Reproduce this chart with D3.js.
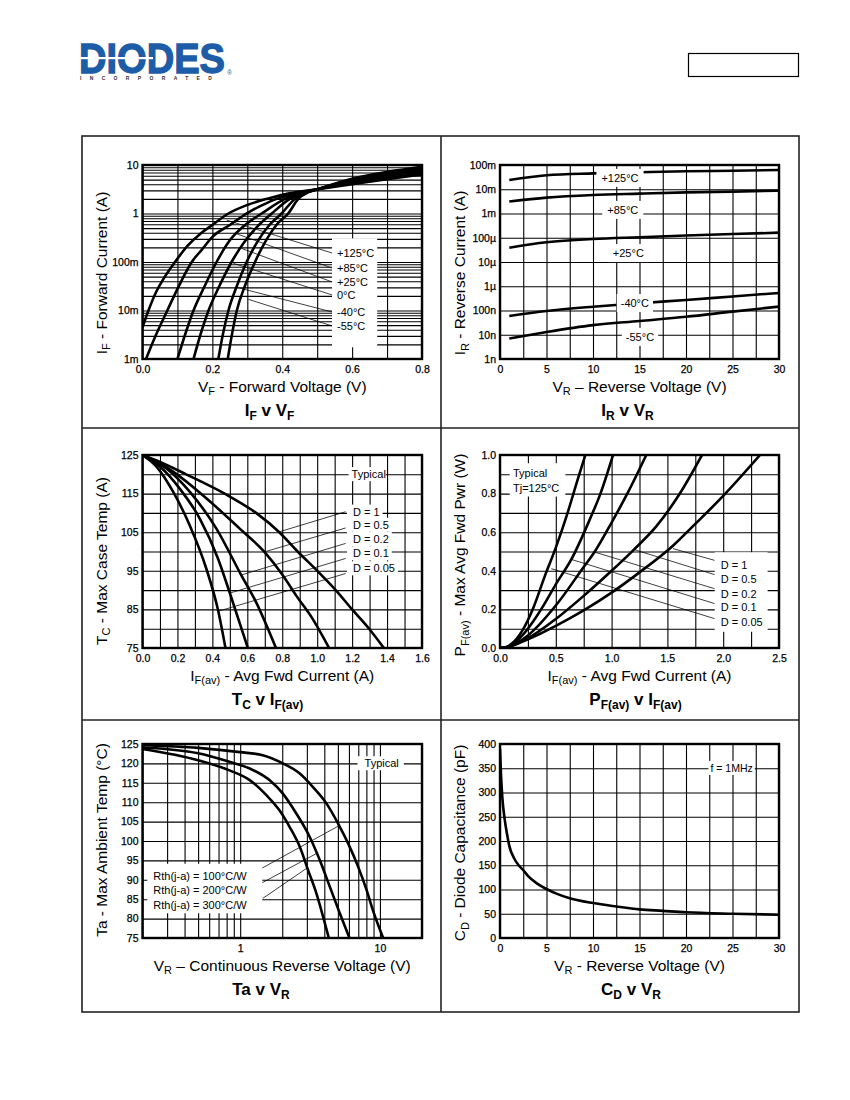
<!DOCTYPE html>
<html>
<head>
<meta charset="utf-8">
<title>Diode typical characteristics</title>
<script src="https://cdnjs.cloudflare.com/ajax/libs/d3/7.8.5/d3.min.js"></script>
<style>
  body { margin: 0; background: #fff; }
  svg { display: block; }
</style>
</head>
<body>
<div id="sheet"></div>
<script>
// ---------- values ----------

// IF v VF : [forward voltage (V), forward current (A)]
var ifTempLabels = ['+125°C', '+85°C', '+25°C', '0°C', '-40°C', '-55°C'];
var if125 = [[0, 0.0045], [0.017, 0.01], [0.04, 0.025], [0.06, 0.045], [0.093, 0.1], [0.13, 0.22], [0.165, 0.38], [0.2, 0.58], [0.246, 1.0], [0.3, 1.5], [0.355, 2.0], [0.42, 2.6], [0.5, 3.15], [0.6, 4.0], [0.7, 5.1], [0.8, 6.4]];
var if85 = [[0.01, 0.001], [0.04, 0.0033], [0.071, 0.01], [0.105, 0.033], [0.141, 0.1], [0.17, 0.18], [0.2, 0.33], [0.25, 0.58], [0.3, 1.02], [0.34, 1.45], [0.384, 2.0], [0.44, 2.6], [0.5, 3.15], [0.6, 4.2], [0.7, 5.4], [0.8, 6.9]];
var if25 = [[0.1, 0.001], [0.122, 0.0032], [0.146, 0.01], [0.178, 0.032], [0.212, 0.1], [0.25, 0.28], [0.3, 0.63], [0.341, 1.0], [0.408, 2.0], [0.45, 2.6], [0.5, 3.15], [0.6, 4.45], [0.7, 5.9], [0.8, 7.5]];
var if0 = [[0.146, 0.001], [0.166, 0.0032], [0.189, 0.01], [0.22, 0.032], [0.255, 0.1], [0.29, 0.25], [0.33, 0.55], [0.37, 1.0], [0.422, 2.0], [0.46, 2.65], [0.5, 3.15], [0.6, 4.7], [0.7, 6.3], [0.8, 8.0]];
var ifM40 = [[0.217, 0.001], [0.23, 0.0032], [0.246, 0.01], [0.27, 0.032], [0.298, 0.1], [0.33, 0.27], [0.365, 0.6], [0.398, 1.0], [0.436, 2.0], [0.47, 2.7], [0.5, 3.15], [0.6, 5.0], [0.7, 6.8], [0.8, 8.7]];
var ifM55 = [[0.244, 0.001], [0.256, 0.0032], [0.27, 0.01], [0.293, 0.032], [0.322, 0.1], [0.35, 0.25], [0.385, 0.6], [0.417, 1.0], [0.446, 2.0], [0.475, 2.75], [0.5, 3.15], [0.6, 5.2], [0.7, 7.2], [0.8, 9.2]];
var ifXTicks = [0, 0.2, 0.4, 0.6, 0.8];
var ifXLabels = ['0.0', '0.2', '0.4', '0.6', '0.8'];
var ifYTicks = [0.001, 0.01, 0.1, 1, 10];
var ifYLabels = ['1m', '10m', '100m', '1', '10'];

// IR v VR : [reverse voltage (V), reverse current (A)]
var irTempLabels = ['+125°C', '+85°C', '+25°C', '-40°C', '-55°C'];
var ir125 = [[1, 0.024], [5, 0.038], [10, 0.045], [15, 0.05], [20, 0.055], [25, 0.058], [30, 0.062]];
var ir85 = [[1, 0.0031], [5, 0.0045], [10, 0.0058], [15, 0.0066], [20, 0.0074], [25, 0.008], [30, 0.0087]];
var ir25 = [[1, 3.9e-5], [5, 6.5e-5], [10, 8.9e-5], [15, 1.05e-4], [20, 1.23e-4], [25, 1.42e-4], [30, 1.62e-4]];
var irM40 = [[1, 5.9e-8], [5, 9.5e-8], [10, 1.43e-7], [15, 2.0e-7], [20, 2.7e-7], [25, 3.8e-7], [30, 5.3e-7]];
var irM55 = [[1, 7e-9], [5, 1.3e-8], [10, 2.5e-8], [15, 3.7e-8], [20, 5.5e-8], [25, 9e-8], [30, 1.45e-7]];
var irXTicks = [0, 5, 10, 15, 20, 25, 30];
var irYTicks = [1e-9, 1e-8, 1e-7, 1e-6, 1e-5, 1e-4, 1e-3, 1e-2, 1e-1];
var irYLabels = ['1n', '10n', '100n', '1\u00b5', '10\u00b5', '100\u00b5', '1m', '10m', '100m'];

// TC v IF(av) : [avg forward current (A), max case temp (°C)]
var dutyLabels = ['D = 1', 'D = 0.5', 'D = 0.2', 'D = 0.1', 'D = 0.05'];
var tcD1 = [[0, 125], [0.1, 123.2], [0.25, 120], [0.47, 115], [0.65, 110], [0.783, 105], [0.888, 100], [1.0, 95], [1.106, 90], [1.2, 85], [1.297, 80], [1.382, 75]];
var tcD05 = [[0, 125], [0.175, 120.7], [0.365, 113.8], [0.555, 106], [0.698, 99.9], [0.802, 93.9], [0.878, 88.7], [0.973, 82.6], [1.068, 75]];
var tcD02 = [[0, 125], [0.137, 121.5], [0.27, 115.5], [0.422, 106], [0.565, 93.9], [0.65, 86.9], [0.764, 75]];
var tcD01 = [[0, 125], [0.099, 122], [0.213, 116.3], [0.327, 108.6], [0.432, 98.2], [0.498, 89.5], [0.603, 75]];
var tcD005 = [[0, 125], [0.08, 122], [0.175, 115.5], [0.27, 106.8], [0.365, 95.6], [0.432, 84.9], [0.475, 75]];
var tcXTicks = [0, 0.2, 0.4, 0.6, 0.8, 1.0, 1.2, 1.4, 1.6];
var tcXLabels = ['0.0', '0.2', '0.4', '0.6', '0.8', '1.0', '1.2', '1.4', '1.6'];
var tcYTicks = [75, 85, 95, 105, 115, 125];

// PF(av) v IF(av) : [avg forward current (A), avg forward power (W)]
var pfD1 = [[0, 0], [0.05, 0.002], [0.1, 0.01], [0.25, 0.045], [0.5, 0.115], [0.75, 0.195], [1.0, 0.287], [1.25, 0.392], [1.55, 0.53], [1.75, 0.643], [2.0, 0.788], [2.33, 1.0]];
var pfD05 = [[0, 0], [0.05, 0.002], [0.1, 0.01], [0.25, 0.05], [0.5, 0.15], [0.75, 0.27], [1.0, 0.4], [1.2, 0.51], [1.4, 0.63], [1.6, 0.79], [1.81, 1.0]];
var pfD02 = [[0, 0], [0.05, 0.003], [0.1, 0.012], [0.25, 0.065], [0.5, 0.22], [0.75, 0.42], [0.85, 0.5], [1.0, 0.65], [1.15, 0.81], [1.311, 1.0]];
var pfD01 = [[0, 0], [0.05, 0.003], [0.1, 0.015], [0.2, 0.065], [0.3, 0.14], [0.4, 0.23], [0.5, 0.33], [0.64, 0.46], [0.8, 0.66], [0.9, 0.8], [1.013, 1.0]];
var pfD005 = [[0, 0], [0.05, 0.004], [0.1, 0.02], [0.2, 0.09], [0.3, 0.21], [0.4, 0.37], [0.5, 0.52], [0.6, 0.69], [0.7, 0.88], [0.765, 1.0]];
var pfXTicks = [0, 0.5, 1.0, 1.5, 2.0, 2.5];
var pfXLabels = ['0.0', '0.5', '1.0', '1.5', '2.0', '2.5'];
var pfYTicks = [0, 0.2, 0.4, 0.6, 0.8, 1.0];
var pfYLabels = ['0.0', '0.2', '0.4', '0.6', '0.8', '1.0'];

// Ta v VR : [reverse voltage (V), max ambient temp (°C)]
var rthLabels = ['Rth(j-a) = 100°C/W', 'Rth(j-a) = 200°C/W', 'Rth(j-a) = 300°C/W'];
var ta100 = [[0.2, 124.7], [0.5, 124], [1, 122.9], [1.45, 122.1], [2.02, 120], [2.67, 117.4], [3.32, 113.9], [4.14, 109.7], [5.02, 104.5], [5.92, 99.4], [6.98, 93.4], [8.02, 87.4], [9.05, 81.4], [10.6, 74.8]];
var ta200 = [[0.2, 124.1], [0.5, 122.6], [0.838, 120.4], [1.17, 118.7], [1.62, 115.7], [2.02, 112.2], [2.52, 107.1], [3.14, 101.1], [3.71, 95.1], [4.38, 88.2], [5.16, 81.4], [6.1, 74.7]];
var ta300 = [[0.2, 123.7], [0.5, 120.8], [0.838, 118.2], [1.17, 115.7], [1.54, 111.8], [1.91, 107.9], [2.26, 103.6], [2.67, 98.5], [3.06, 92.5], [3.51, 86.5], [3.92, 80.5], [4.33, 74.7]];
var taXTicks = [1, 10];
var taYTicks = [75, 80, 85, 90, 95, 100, 105, 110, 115, 120, 125];

// CD v VR : [reverse voltage (V), capacitance (pF)]
var cdCurve = [[0, 390], [0.1, 340], [0.25, 290], [0.5, 245], [0.75, 215], [1, 190], [1.5, 165], [2, 150], [2.5, 140], [3, 128], [4, 112], [5, 101], [6, 92], [7.5, 82], [10, 72], [12.5, 65], [15, 59], [17.5, 56], [20, 53], [25, 50], [30, 48]];
var cdXTicks = [0, 5, 10, 15, 20, 25, 30];
var cdYTicks = [0, 50, 100, 150, 200, 250, 300, 350, 400];

// ---------- drawing ----------

var FONT = '"Liberation Sans", Arial, Helvetica, sans-serif';
var BLUE = '#1d5ca6';

var svg = d3.select('#sheet').append('svg')
    .attr('width', 850)
    .attr('height', 1100)
    .style('font-family', FONT);
var defs = svg.append('defs');
var clipCount = 0;

// Header: logo (one text element, squeezed horizontally) and part number box.
var logo = svg.append('text')
    .attr('transform', 'translate(79,0) scale(0.907,1)')
    .attr('font-weight', 'bold');
logo.append('tspan')
    .attr('x', 0).attr('y', 73)
    .attr('font-size', 42)
    .attr('fill', BLUE).attr('stroke', BLUE).attr('stroke-width', 1.3)
    .text('DIODES');
logo.append('tspan')
    .attr('x', 1.1).attr('y', 80.5)
    .attr('font-size', 5.5)
    .attr('letter-spacing', 9.2)
    .attr('fill', '#333')
    .text('INCORPORATED');
logo.append('tspan')
    .attr('x', 163.5).attr('y', 75.5)
    .attr('font-size', 7).attr('font-weight', 'normal')
    .attr('fill', BLUE)
    .text('\u00ae');
svg.append('rect')
    .attr('x', 79).attr('y', 57).attr('width', 74).attr('height', 2.2)
    .attr('fill', '#fff');
svg.append('rect')
    .attr('x', 688.5).attr('y', 53.5).attr('width', 110).attr('height', 23)
    .attr('fill', 'none').attr('stroke', '#000').attr('stroke-width', 1.2);

// Page frame holding the six panels.
svg.append('rect')
    .attr('x', 82).attr('y', 136).attr('width', 717).attr('height', 876)
    .attr('fill', 'none').attr('stroke', '#222').attr('stroke-width', 1.6);
[[441, 136, 441, 1012], [82, 428, 799, 428], [82, 720, 799, 720]].forEach(function(l){
    svg.append('line')
        .attr('x1', l[0]).attr('y1', l[1]).attr('x2', l[2]).attr('y2', l[3])
        .attr('stroke', '#222').attr('stroke-width', 1.6);
});

// Text with subscript parts: [['I'], ['F', 1], [' - ...']]
function rich(t, parts, subSize, shift) {
    var low = false;
    parts.forEach(function(p){
        var s = t.append('tspan').text(p[0]);
        if (p[1]) {
            s.attr('font-size', subSize);
            if (!low) { s.attr('dy', shift); low = true; }
        } else if (low) {
            s.attr('dy', -shift);
            low = false;
        }
    });
}

function gridStyle(a) {
    a.select('.domain').remove();
    a.selectAll('line').attr('stroke', '#000').attr('stroke-width', 1.1);
}

function tickStyle(a) {
    a.select('.domain').remove();
    a.attr('font-family', FONT).attr('font-size', 10.5);
    a.selectAll('text').attr('fill', '#000').attr('stroke', '#000').attr('stroke-width', 0.25);
}

function logGrid(lo, hi) {
    var v = [];
    for (var e = lo; e < hi; e++) {
        for (var m = 1; m < 10; m++) v.push(m * Math.pow(10, e));
    }
    v.push(Math.pow(10, hi));
    return v;
}

function panel(o) {
    var g = svg.append('g');
    var w = o.right - o.left, h = o.bottom - o.top;
    var x = (o.xLog ? d3.scaleLog() : d3.scaleLinear()).domain(o.xDomain).range([o.left, o.right]);
    var y = (o.yLog ? d3.scaleLog() : d3.scaleLinear()).domain(o.yDomain).range([o.bottom, o.top]);

    // Grid lines.
    g.append('g')
        .attr('transform', 'translate(0,' + o.bottom + ')')
        .call(d3.axisBottom(x).tickValues(o.xGrid).tickSize(-h).tickFormat(''))
        .call(gridStyle);
    g.append('g')
        .attr('transform', 'translate(' + o.left + ',0)')
        .call(d3.axisLeft(y).tickValues(o.yGrid).tickSize(-w).tickFormat(''))
        .call(gridStyle);

    // Curves, clipped to the plot.
    var id = 'clip' + (clipCount++);
    defs.append('clipPath').attr('id', id)
        .append('rect').attr('x', o.left).attr('y', o.top).attr('width', w).attr('height', h);
    var line = d3.line()
        .x(function(d){ return x(d[0]); })
        .y(function(d){ return y(d[1]); })
        .curve(d3.curveMonotoneX);
    g.append('g').attr('clip-path', 'url(#' + id + ')')
        .selectAll('path')
        .data(o.series)
        .enter().append('path')
            .attr('d', line)
            .attr('fill', 'none')
            .attr('stroke', '#000')
            .attr('stroke-width', 2.6)
            .attr('stroke-linejoin', 'round');

    // Thin leader lines from curves to their labels.
    g.selectAll('line.leader')
        .data(o.leaders || [])
        .enter().append('line')
            .attr('class', 'leader')
            .attr('x1', function(d){ return x(d[0][0]); })
            .attr('y1', function(d){ return y(d[0][1]); })
            .attr('x2', function(d){ return x(d[1][0]); })
            .attr('y2', function(d){ return y(d[1][1]); })
            .attr('stroke', '#000')
            .attr('stroke-width', 0.75);

    // Labels on white boxes.
    (o.notes || []).forEach(function(n){
        var ng = g.append('g');
        n.texts.forEach(function(s, i){
            ng.append('text')
                .attr('x', x(n.x))
                .attr('y', y(n.ys[i]))
                .attr('dy', '0.35em')
                .attr('text-anchor', n.anchor || 'start')
                .attr('font-size', n.size || 11)
                .text(s);
        });
        var bb = ng.node().getBBox();
        ng.insert('rect', ':first-child')
            .attr('x', bb.x - n.pad[0])
            .attr('y', bb.y - n.pad[2])
            .attr('width', bb.width + n.pad[0] + n.pad[1])
            .attr('height', bb.height + n.pad[2] + n.pad[3])
            .attr('fill', '#fff');
    });

    // Plot border.
    g.append('rect')
        .attr('x', o.left).attr('y', o.top).attr('width', w).attr('height', h)
        .attr('fill', 'none').attr('stroke', '#000').attr('stroke-width', 2.4);

    // Tick labels.
    g.append('g')
        .attr('transform', 'translate(0,' + o.bottom + ')')
        .call(d3.axisBottom(x).tickValues(o.xTicks).tickSize(0).tickPadding(6.5)
            .tickFormat(function(d){ return o.xLabels[o.xTicks.indexOf(d)]; }))
        .call(tickStyle);
    g.append('g')
        .attr('transform', 'translate(' + o.left + ',0)')
        .call(d3.axisLeft(y).tickValues(o.yTicks).tickSize(0).tickPadding(4)
            .tickFormat(function(d){ return o.yLabels[o.yTicks.indexOf(d)]; }))
        .call(tickStyle);

    // Axis titles and panel title.
    var xt = g.append('text')
        .attr('x', (o.left + o.right) / 2)
        .attr('y', o.bottom + 32.5)
        .attr('text-anchor', 'middle')
        .attr('font-size', 15.5);
    rich(xt, o.xTitle, 11, 3.5);

    var yt = g.append('text')
        .attr('transform', 'translate(' + o.yTitleX + ',' + o.yTitleY + ') rotate(-90)')
        .attr('text-anchor', 'middle')
        .attr('font-size', 15.5);
    rich(yt, o.yTitle, 11, 3.5);

    var tt = g.append('text')
        .attr('x', o.titleX)
        .attr('y', o.bottom + 57)
        .attr('text-anchor', 'middle')
        .attr('font-size', 17)
        .attr('font-weight', 'bold');
    rich(tt, o.title, 12, 3.5);
}

var L = {left: 142.5, right: 422, yTitleX: 106.5};
var R = {left: 500, right: 779, yTitleX: 465};

// IF v VF
panel({
    left: L.left, right: L.right, top: 165, bottom: 359,
    xDomain: [0, 0.8], yLog: true, yDomain: [0.001, 10],
    xGrid: d3.range(0, 0.81, 0.1), yGrid: logGrid(-3, 1),
    xTicks: ifXTicks, xLabels: ifXLabels, yTicks: ifYTicks, yLabels: ifYLabels,
    series: [if125, if85, if25, if0, ifM40, ifM55],
    leaders: [
        [[0.241, 0.73], [0.543, 0.153]],
        [[0.27, 0.38], [0.543, 0.075]],
        [[0.284, 0.19], [0.543, 0.0387]],
        [[0.26, 0.094], [0.543, 0.0209]],
        [[0.27, 0.03], [0.543, 0.0093]],
        [[0.303, 0.017], [0.543, 0.0048]]
    ],
    notes: [{x: 0.5567, ys: [0.153, 0.075, 0.0387, 0.0209, 0.0093, 0.0048], texts: ifTempLabels, pad: [5, 3, 8.5, 15.5]}],
    xTitle: [['V'], ['F', 1], [' - Forward Voltage (V)']],
    yTitle: [['I'], ['F', 1], [' - Forward Current (A)']],
    title: [['I'], ['F', 1], [' v V'], ['F', 1]],
    yTitleX: L.yTitleX, yTitleY: 273, titleX: 269.5
});

// IR v VR
panel({
    left: R.left, right: R.right, top: 165, bottom: 359,
    xDomain: [0, 30], yLog: true, yDomain: [1e-9, 0.1],
    xGrid: d3.range(0, 30.1, 2.5), yGrid: irYTicks,
    xTicks: irXTicks, xLabels: irXTicks.map(String), yTicks: irYTicks, yLabels: irYLabels,
    series: [ir125, ir85, ir25, irM40, irM55],
    notes: [
        {x: 12.9, ys: [0.029], texts: [irTempLabels[0]], anchor: 'middle', pad: [5, 5, 3, 3]},
        {x: 13.2, ys: [1.39e-3], texts: [irTempLabels[1]], anchor: 'middle', pad: [5, 5, 3, 3]},
        {x: 13.8, ys: [2.3e-5], texts: [irTempLabels[2]], anchor: 'middle', pad: [5, 5, 3, 3]},
        {x: 14.5, ys: [2.0e-7], texts: [irTempLabels[3]], anchor: 'middle', pad: [4, 4, 3, 3]},
        {x: 15.05, ys: [8.1e-9], texts: [irTempLabels[4]], anchor: 'middle', pad: [4, 4, 3, 3]}
    ],
    xTitle: [['V'], ['R', 1], [' \u2013 Reverse Voltage (V)']],
    yTitle: [['I'], ['R', 1], [' - Reverse Current (A)']],
    title: [['I'], ['R', 1], [' v V'], ['R', 1]],
    yTitleX: R.yTitleX, yTitleY: 273, titleX: 627.5
});

// TC v IF(av)
panel({
    left: L.left, right: L.right, top: 455, bottom: 648,
    xDomain: [0, 1.6], yDomain: [75, 125],
    xGrid: d3.range(0, 1.61, 0.1), yGrid: d3.range(75, 126, 5),
    xTicks: tcXTicks, xLabels: tcXLabels, yTicks: tcYTicks, yLabels: tcYTicks.map(String),
    series: [tcD1, tcD05, tcD02, tcD01, tcD005],
    leaders: [
        [[0.783, 105.1], [1.163, 110.3]],
        [[0.698, 99.9], [1.163, 106.1]],
        [[0.565, 93.9], [1.163, 102.1]],
        [[0.498, 89.2], [1.163, 98.2]],
        [[0.432, 84.5], [1.163, 94.3]]
    ],
    notes: [
        {x: 1.295, ys: [120], texts: ['Typical'], anchor: 'middle', pad: [3, 0, 1, 1]},
        {x: 1.205, ys: [110.3], texts: [dutyLabels[0]], pad: [6, 3, 1, 1]},
        {x: 1.205, ys: [106.9], texts: [dutyLabels[1]], pad: [6, 3, 1, 1]},
        {x: 1.205, ys: [103.2], texts: [dutyLabels[2]], pad: [6, 3, 1, 1]},
        {x: 1.205, ys: [99.5], texts: [dutyLabels[3]], pad: [6, 3, 1, 1]},
        {x: 1.205, ys: [95.6], texts: [dutyLabels[4]], pad: [6, 3, 1, 1]}
    ],
    xTitle: [['I'], ['F(av)', 1], [' - Avg Fwd Current (A)']],
    yTitle: [['T'], ['C', 1], [' - Max Case Temp (A)']],
    title: [['T'], ['C', 1], [' v I'], ['F(av)', 1]],
    yTitleX: L.yTitleX, yTitleY: 561, titleX: 267.5
});

// PF(av) v IF(av)
panel({
    left: R.left, right: R.right, top: 455, bottom: 648,
    xDomain: [0, 2.5], yDomain: [0, 1],
    xGrid: d3.range(0, 2.51, 0.25), yGrid: d3.range(0, 1.01, 0.1),
    xTicks: pfXTicks, xLabels: pfXLabels, yTicks: pfYTicks, yLabels: pfYLabels,
    series: [pfD1, pfD05, pfD02, pfD01, pfD005],
    leaders: [
        [[1.55, 0.515], [1.924, 0.454]],
        [[1.207, 0.509], [1.924, 0.38]],
        [[0.848, 0.497], [1.924, 0.307]],
        [[0.639, 0.459], [1.924, 0.23]],
        [[0.46, 0.411], [1.924, 0.152]]
    ],
    notes: [
        {x: 0.1165, ys: [0.908, 0.829], texts: ['Typical', 'Tj=125°C'], pad: [3.3, 6, 3.4, 2.7]},
        {x: 1.978, ys: [0.428, 0.359, 0.281, 0.212, 0.135], texts: dutyLabels, pad: [6, 5, 7, 4]}
    ],
    xTitle: [['I'], ['F(av)', 1], [' - Avg Fwd Current (A)']],
    yTitle: [['P'], ['F(av)', 1], [' - Max Avg Fwd Pwr (W)']],
    title: [['P'], ['F(av)', 1], [' v I'], ['F(av)', 1]],
    yTitleX: R.yTitleX, yTitleY: 555, titleX: 635.5
});

// Ta v VR
var taGrid = [0.2, 0.3, 0.4, 0.5, 0.6, 0.7, 0.8, 0.9, 1, 2, 3, 4, 5, 6, 7, 8, 9, 10, 20];
panel({
    left: L.left, right: L.right, top: 744, bottom: 938,
    xLog: true, xDomain: [0.2, 20], yDomain: [75, 125],
    xGrid: taGrid, yGrid: taYTicks,
    xTicks: taXTicks, xLabels: taXTicks.map(String), yTicks: taYTicks, yLabels: taYTicks.map(String),
    series: [ta100, ta200, ta300],
    leaders: [
        [[5.19, 104.1], [1.415, 92.9]],
        [[3.61, 97.0], [1.415, 89.1]],
        [[3.0, 93.0], [1.45, 85.2]]
    ],
    notes: [
        {x: 10.29, ys: [120], texts: ['Typical'], anchor: 'middle', pad: [7, 5, 1, 1]},
        {x: 0.239, ys: [91.0, 87.3, 83.4], texts: rthLabels, pad: [6, 15, 6, 2]}
    ],
    xTitle: [['V'], ['R', 1], [' \u2013 Continuous Reverse Voltage (V)']],
    yTitle: [['Ta - Max Ambient Temp (°C)']],
    title: [['Ta v V'], ['R', 1]],
    yTitleX: L.yTitleX, yTitleY: 840, titleX: 261
});

// CD v VR
panel({
    left: R.left, right: R.right, top: 744, bottom: 938,
    xDomain: [0, 30], yDomain: [0, 400],
    xGrid: d3.range(0, 30.1, 2.5), yGrid: cdYTicks,
    xTicks: cdXTicks, xLabels: cdXTicks.map(String), yTicks: cdYTicks, yLabels: cdYTicks.map(String),
    series: [cdCurve],
    notes: [{x: 24.9, ys: [350], texts: ['f = 1MHz'], anchor: 'middle', size: 10.5, pad: [2, 2, 1, 1]}],
    xTitle: [['V'], ['R', 1], [' - Reverse Voltage (V)']],
    yTitle: [['C'], ['D', 1], [' - Diode Capacitance (pF)']],
    title: [['C'], ['D', 1], [' v V'], ['R', 1]],
    yTitleX: R.yTitleX, yTitleY: 843, titleX: 631
});
</script>
</body>
</html>
